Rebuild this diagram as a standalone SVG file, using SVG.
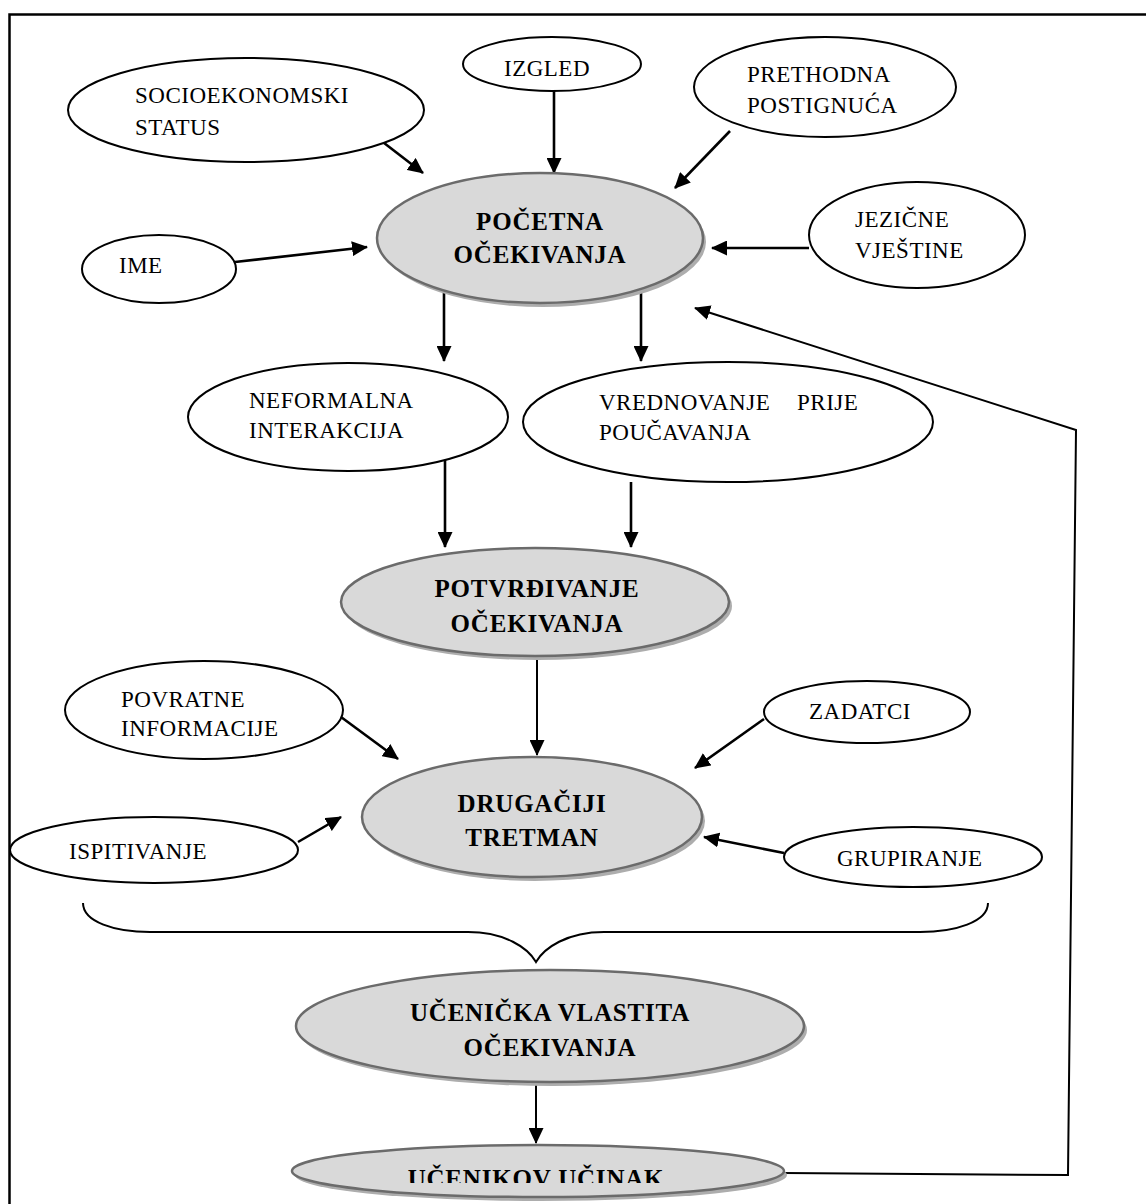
<svg xmlns="http://www.w3.org/2000/svg" width="1146" height="1204" viewBox="0 0 1146 1204">
<defs>
<style>
.w{fill:#fff;stroke:#000;stroke-width:2}
.g{fill:#d9d9d9;stroke:#6b6b6b;stroke-width:2.5}
.sh{fill:#adadad;stroke:none}
.t{font-family:"Liberation Serif","Times New Roman",serif;font-size:23px;letter-spacing:0.5px;fill:#000}
.b{font-family:"Liberation Serif","Times New Roman",serif;font-size:25px;font-weight:bold;letter-spacing:0.8px;fill:#000;text-anchor:middle}
.c{fill:none;stroke:#000;stroke-width:2.6}
.c2{fill:none;stroke:#000;stroke-width:2}
</style>
<marker id="ah" viewBox="0 0 16 15" refX="15" refY="7.5" markerWidth="16" markerHeight="15" markerUnits="userSpaceOnUse" orient="auto">
<path d="M0,0 L16,7.5 L0,15 z" fill="#000"/>
</marker>
<clipPath id="clipBottom"><rect x="0" y="0" width="1146" height="1183"/></clipPath>
</defs>
<rect x="0" y="0" width="1146" height="1204" fill="#fff"/>
<path d="M9.5,1204 V14.5 H1146" fill="none" stroke="#000" stroke-width="2.5"/>

<g id="connectors">
<line class="c" x1="375" y1="136" x2="423" y2="173" marker-end="url(#ah)"/>
<line class="c" x1="554" y1="91" x2="554" y2="173" marker-end="url(#ah)"/>
<line class="c" x1="730" y1="131" x2="675" y2="188" marker-end="url(#ah)"/>
<line class="c" x1="235" y1="262" x2="367" y2="247" marker-end="url(#ah)"/>
<line class="c" x1="809" y1="248" x2="712" y2="248" marker-end="url(#ah)"/>
<line class="c" x1="444" y1="287" x2="444" y2="361" marker-end="url(#ah)"/>
<line class="c" x1="641" y1="287" x2="641" y2="361" marker-end="url(#ah)"/>
<line class="c" x1="445" y1="456" x2="445" y2="547" marker-end="url(#ah)"/>
<line class="c" x1="631" y1="482" x2="631" y2="547" marker-end="url(#ah)"/>
<line class="c2" x1="537" y1="657" x2="537" y2="755" marker-end="url(#ah)"/>
<line class="c" x1="341" y1="717" x2="398" y2="759" marker-end="url(#ah)"/>
<line class="c" x1="298" y1="842" x2="341" y2="817" marker-end="url(#ah)"/>
<line class="c" x1="764" y1="719" x2="695" y2="768" marker-end="url(#ah)"/>
<line class="c" x1="784" y1="853" x2="704" y2="837" marker-end="url(#ah)"/>
<line class="c2" x1="536" y1="1082" x2="536" y2="1143" marker-end="url(#ah)"/>
<polyline class="c2" points="784,1173 1068,1175 1076,430 695,308" marker-end="url(#ah)"/>
<path class="c2" d="M83,903 C83,922 115,932 150,932 L468,932 C505,932 528,948 536,962 C544,948 567,932 604,932 L920,932 C955,932 988,922 988,903"/>
</g>

<g id="n-socio">
<ellipse class="w" cx="246" cy="110" rx="178" ry="52"/>
<text class="t" x="135" y="103">SOCIOEKONOMSKI</text>
<text class="t" x="135" y="135">STATUS</text>
</g>
<g id="n-izgled">
<ellipse class="w" cx="552" cy="64" rx="89" ry="27"/>
<text class="t" x="504" y="76">IZGLED</text>
</g>
<g id="n-prethodna">
<ellipse class="w" cx="825" cy="87" rx="131" ry="50"/>
<text class="t" x="747" y="82">PRETHODNA</text>
<text class="t" x="747" y="113">POSTIGNUĆA</text>
</g>
<g id="n-ime">
<ellipse class="w" cx="159" cy="269" rx="77" ry="34"/>
<text class="t" x="119" y="273">IME</text>
</g>
<g id="n-jezicne">
<ellipse class="w" cx="917" cy="235" rx="108" ry="53"/>
<text class="t" x="855" y="227">JEZIČNE</text>
<text class="t" x="855" y="258">VJEŠTINE</text>
</g>
<g id="n-pocetna">
<ellipse class="sh" cx="543" cy="242" rx="163" ry="65"/>
<ellipse class="g" cx="540" cy="238" rx="163" ry="65"/>
<text class="b" x="540" y="230">POČETNA</text>
<text class="b" x="540" y="263">OČEKIVANJA</text>
</g>
<g id="n-neformalna">
<ellipse class="w" cx="348" cy="417" rx="160" ry="54"/>
<text class="t" x="249" y="408">NEFORMALNA</text>
<text class="t" x="249" y="438">INTERAKCIJA</text>
</g>
<g id="n-vrednovanje">
<ellipse class="w" cx="728" cy="422" rx="205" ry="60"/>
<text class="t" y="410"><tspan x="599">VREDNOVANJE</tspan><tspan x="797">PRIJE</tspan></text>
<text class="t" x="599" y="440">POUČAVANJA</text>
</g>
<g id="n-potvrdivanje">
<ellipse class="sh" cx="538" cy="606" rx="194" ry="54"/>
<ellipse class="g" cx="535" cy="602" rx="194" ry="54"/>
<text class="b" x="537" y="597">POTVRĐIVANJE</text>
<text class="b" x="537" y="632">OČEKIVANJA</text>
</g>
<g id="n-povratne">
<ellipse class="w" cx="204" cy="710" rx="139" ry="49"/>
<text class="t" x="121" y="707">POVRATNE</text>
<text class="t" x="121" y="736">INFORMACIJE</text>
</g>
<g id="n-zadatci">
<ellipse class="w" cx="867" cy="712" rx="103" ry="31"/>
<text class="t" x="809" y="719">ZADATCI</text>
</g>
<g id="n-drugaciji">
<ellipse class="sh" cx="535" cy="821" rx="170" ry="60"/>
<ellipse class="g" cx="532" cy="817" rx="170" ry="60"/>
<text class="b" x="532" y="812">DRUGAČIJI</text>
<text class="b" x="532" y="846">TRETMAN</text>
</g>
<g id="n-ispitivanje">
<ellipse class="w" cx="154" cy="850" rx="144" ry="33"/>
<text class="t" x="69" y="859">ISPITIVANJE</text>
</g>
<g id="n-grupiranje">
<ellipse class="w" cx="913" cy="857" rx="129" ry="30"/>
<text class="t" x="837" y="866">GRUPIRANJE</text>
</g>
<g id="n-ucenicka">
<ellipse class="sh" cx="553" cy="1030" rx="254" ry="56"/>
<ellipse class="g" cx="550" cy="1026" rx="254" ry="56"/>
<text class="b" x="550" y="1021">UČENIČKA VLASTITA</text>
<text class="b" x="550" y="1056">OČEKIVANJA</text>
</g>
<g id="n-ucenikov">
<ellipse class="sh" cx="541" cy="1175" rx="246" ry="26"/>
<ellipse class="g" cx="538" cy="1171" rx="246" ry="26"/>
<text class="b" x="536" y="1187" clip-path="url(#clipBottom)">UČENIKOV UČINAK</text>
</g>
</svg>
